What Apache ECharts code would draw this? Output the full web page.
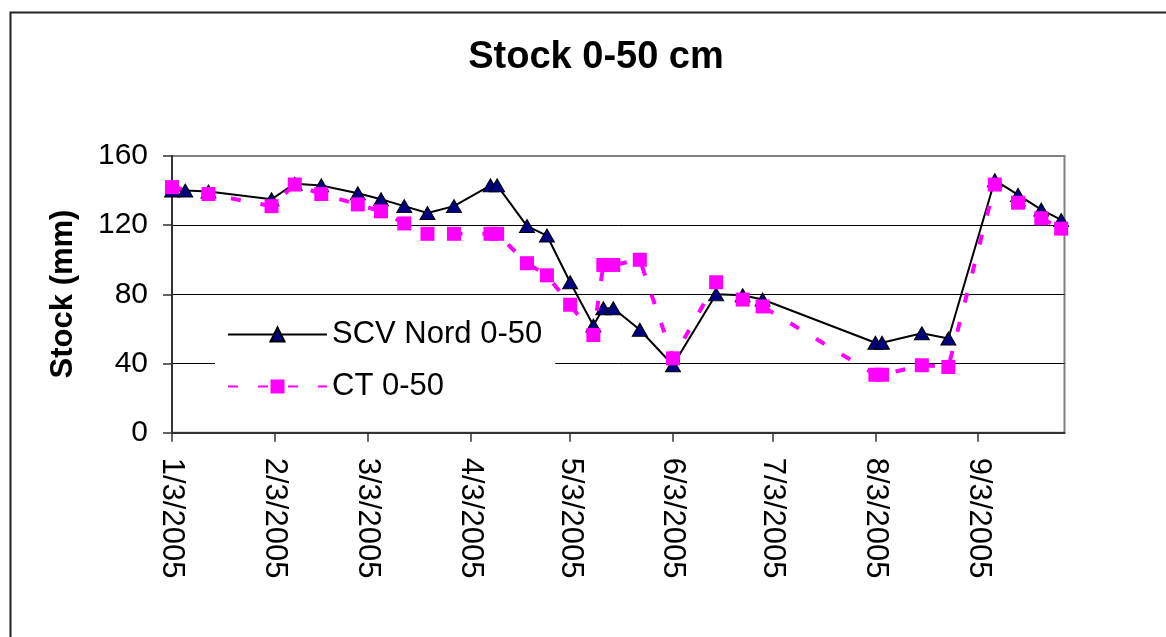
<!DOCTYPE html>
<html>
<head>
<meta charset="utf-8">
<script src="https://cdn.jsdelivr.net/npm/echarts@6/dist/echarts.min.js"></script>
<style>
html,body{margin:0;padding:0;background:#fff;}
#chart{width:1166px;height:637px;}
</style>
</head>
<body>
<div id="chart"></div>
<script>
// ---- data ----
const titleText = 'Stock 0-50 cm';
const yAxisTitle = 'Stock (mm)';
const seriesNames = ['SCV Nord 0-50', 'CT 0-50'];
const xTickDates = ['2005-01-03','2005-02-03','2005-03-03','2005-04-03','2005-05-03','2005-06-03','2005-07-03','2005-08-03','2005-09-03'];
const xMinDate = '2005-01-03';
const xMaxDate = '2005-09-29';
const yTicks = [0, 40, 80, 120, 160];

const scvDates = ['2005-01-03','2005-01-07','2005-01-14','2005-02-02','2005-02-09','2005-02-17','2005-02-28','2005-03-07','2005-03-14','2005-03-21','2005-03-29','2005-04-09','2005-04-11','2005-04-20','2005-04-26','2005-05-03','2005-05-10','2005-05-13','2005-05-16','2005-05-24','2005-06-03','2005-06-16','2005-06-24','2005-06-30','2005-08-03','2005-08-05','2005-08-17','2005-08-25','2005-09-08','2005-09-15','2005-09-22','2005-09-28'];
const scvValues = [140,140,139.5,135,144,143,138.5,135,131,127,131,143,143,119.5,114,87,62,72,72,59.5,39,80,79.5,77,52,52,57.5,54.5,146,137.5,129,123];

const ctDates = ['2005-01-03','2005-01-14','2005-02-02','2005-02-09','2005-02-17','2005-02-28','2005-03-07','2005-03-14','2005-03-21','2005-03-29','2005-04-09','2005-04-11','2005-04-20','2005-04-26','2005-05-03','2005-05-10','2005-05-13','2005-05-16','2005-05-24','2005-06-03','2005-06-16','2005-06-24','2005-06-30','2005-08-03','2005-08-05','2005-08-17','2005-08-25','2005-09-08','2005-09-15','2005-09-22','2005-09-28'];
const ctValues = [142,138,131,143.5,138,132,128,121,115,115,115,115,98,91,74,56.5,97,97,100,43,87,77,73,33.5,33.5,39,38,143.5,133,124,118];

// ---- helpers ----
function toTs(s){ const p = s.split('-').map(Number); return new Date(p[0], p[1]-1, p[2]).getTime(); }
function fmt(v){ const d = new Date(v); return (d.getMonth()+1) + '/' + d.getDate() + '/' + d.getFullYear(); }
const FONT = '"Liberation Sans", Arial, sans-serif';
const tickTs = xTickDates.map(toTs);

const chart = echarts.init(document.getElementById('chart'), null, {renderer:'canvas'});
chart.setOption({
  animation: false,
  backgroundColor: '#fff',
  textStyle: {fontFamily: FONT},
  graphic: [
    {type:'rect', left: 8, top: 10, shape:{x:0,y:0,width:1200,height:700}, style:{fill:'none', stroke:'#222', lineWidth:2}, silent:true, z: -1},
    {type:'text', x: 596, y: 58, style:{text: titleText, font: 'bold 38px ' + FONT, fill:'#000', textAlign:'center', textVerticalAlign:'middle'}},
    {type:'text', x: 63, y: 294, rotation: Math.PI/2, style:{text: yAxisTitle, font: 'bold 31px ' + FONT, fill:'#000', textAlign:'center', textVerticalAlign:'middle'}}
  ],
  grid: {left: 172, top: 156, width: 892.5, height: 276.7, show: true, borderColor: '#808080', borderWidth: 2, backgroundColor: 'transparent'},
  legend: {
    data: seriesNames,
    orient: 'vertical',
    left: 215, top: 309,
    padding: [10, 13, 10, 12],
    backgroundColor: '#fff',
    itemWidth: 99, itemHeight: 17.5, itemGap: 21,
    textStyle: {fontSize: 31, lineHeight: 30, color: '#000', fontFamily: FONT}
  },
  xAxis: {
    type: 'value',
    min: toTs(xMinDate), max: toTs(xMaxDate),
    axisLine: {show: true, lineStyle: {color: '#333', width: 2}},
    axisTick: {show: true, customValues: tickTs, length: 9, lineStyle: {color: '#333', width: 1.5}},
    axisLabel: {customValues: tickTs, rotate: -90, margin: 25, fontSize: 31, color: '#000', fontFamily: FONT, formatter: function(v){ return fmt(v); }},
    splitLine: {show: false}
  },
  yAxis: {
    type: 'value', min: yTicks[0], max: yTicks[yTicks.length-1], interval: 40,
    axisLine: {show: true, lineStyle: {color: '#333', width: 2}},
    axisTick: {show: true, length: 9, lineStyle: {color: '#333', width: 1.5}},
    axisLabel: {margin: 24, fontSize: 30, color: '#000', fontFamily: FONT},
    splitLine: {show: true, showMinLine: false, showMaxLine: false, lineStyle: {color: '#000', width: 1}}
  },
  series: [
    {
      name: seriesNames[0], type: 'line',
      data: scvDates.map((d,i) => [toTs(d), scvValues[i]]),
      symbol: 'triangle', symbolSize: [15, 13],
      itemStyle: {color: '#000080', borderColor: '#000', borderWidth: 1},
      lineStyle: {color: '#000', width: 2},
      z: 3
    },
    {
      name: seriesNames[1], type: 'line',
      data: ctDates.map((d,i) => [toTs(d), ctValues[i]]),
      symbol: 'rect', symbolSize: 14,
      itemStyle: {color: '#ff00ff', borderWidth: 0},
      lineStyle: {color: '#ff00ff', width: 4, type: [10, 20]},
      z: 4
    }
  ]
});
</script>
</body>
</html>
